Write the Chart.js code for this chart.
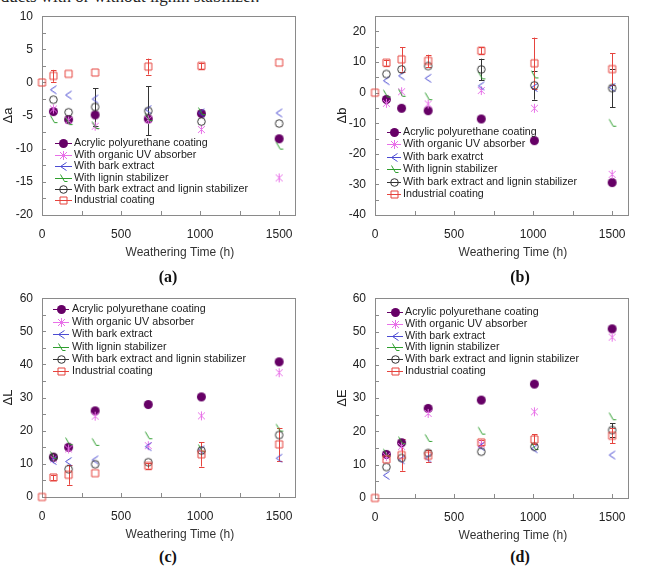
<!DOCTYPE html>
<html>
<head>
<meta charset="utf-8">
<script src="https://cdn.jsdelivr.net/npm/chart.js@4.4.0/dist/chart.umd.min.js"></script>
<style>
body { margin: 0; background: #fff; }
#page { position: relative; width: 669px; height: 573px; overflow: hidden; background: #fff; }
#page canvas { position: absolute; }
.lab { position: absolute; font-family: "Liberation Serif", "Times New Roman", serif; font-weight: bold; font-size: 16px; line-height: 16px; color: #111; transform: translateX(-50%); }
.cap { position: absolute; left: -22px; top: -13px; font-family: "Liberation Serif", serif; font-size: 17px; color: #222; white-space: nowrap; }
</style>
</head>
<body>
<div id="page">
	<div class="cap">products with or without lignin stabilizer.</div>
	<canvas id="chA" width="334" height="265" style="left:0px;top:0px;width:334px;height:265px"></canvas>
	<canvas id="chB" width="335" height="265" style="left:334px;top:0px;width:335px;height:265px"></canvas>
	<canvas id="chC" width="334" height="265" style="left:0px;top:282px;width:334px;height:265px"></canvas>
	<canvas id="chD" width="335" height="265" style="left:334px;top:282px;width:335px;height:265px"></canvas>
	<div class="lab" style="left:168px;top:269px">(a)</div>
	<div class="lab" style="left:520px;top:269px">(b)</div>
	<div class="lab" style="left:168px;top:549px">(c)</div>
	<div class="lab" style="left:520px;top:549px">(d)</div>
</div>
<script>
// Weathering times (h)
var times = [0, 72, 168, 336, 672, 1008, 1500];

var seriesNames = ['Acrylic polyurethane coating', 'With organic UV absorber', 'With bark extract',
	'With lignin stabilizer', 'With bark extract and lignin stabilizer', 'Industrial coating'];
// panel (b) legend spells it this way
var seriesNamesB = ['Acrylic polyurethane coating', 'With organic UV absorber', 'With bark exatrct',
	'With lignin stabilizer', 'With bark extract and lignin stabilizer', 'Industrial coating'];

// (a) delta a  (only the industrial coating shows a mark at 0 h)
var aAcrylic    = [null, -4.4, -5.6, -4.9, -5.5, -4.7, -8.5];
var aUV         = [null, -4.0, -5.7, -6.6, -5.6, -7.1, -14.4];
var aBark       = [null, -1.1, -1.9, -2.5, -4.1, -4.6, -4.6];
var aLignin     = [null, -5.6, -5.9, -6.5, -5.3, -4.4, -9.6];
var aBarkLignin = [null, -2.6, -4.5, -3.7, -4.3, -5.9, -6.2];
var aIndustrial = [0, 1.0, 1.3, 1.5, 2.4, 2.5, 3.0];
var aBarkLigninErr = [0, 0, 0, 2.8, 3.7, 0, 0];
var aIndustrialErr = [0, 0.9, 0, 0, 1.2, 0.5, 0];

// (b) delta b
var bAcrylic    = [null, -2.2, -5.1, -5.9, -8.6, -15.7, -29.4];
var bUV         = [null, -3.5, 0.3, -3.7, 0.7, -5.1, -26.7];
var bBark       = [null, 3.9, 5.5, 4.7, 2.2, 1.7, 1.7];
var bLignin     = [null, -0.4, -0.2, -1.3, 5.5, 5.8, -10.0];
var bBarkLignin = [null, 6.1, 7.6, 8.7, 7.6, 2.4, 1.5];
var bIndustrial = [0, 9.8, 10.9, 10.4, 13.7, 9.6, 7.7];
var bBarkLigninErr = [0, 0, 0, 0, 3.5, 4.7, 6.3];
var bIndustrialErr = [0, 1.0, 4.0, 2.0, 1.2, 8.4, 5.2];

// (c) delta L
var cAcrylic    = [null, 12.0, 15.0, 26.0, 27.9, 30.2, 40.8];
var cUV         = [null, 11.5, 14.5, 24.4, 15.5, 24.5, 37.5];
var cBark       = [null, 11.0, 10.7, 11.2, 15.2, 14.2, 11.7];
var cLignin     = [null, 12.5, 16.7, 16.5, 18.5, 14.6, 20.8];
var cBarkLignin = [null, 12.0, 8.4, 9.9, 10.5, 14.0, 18.7];
var cIndustrial = [0, 5.9, 6.7, 7.2, 9.4, 12.9, 15.9];
var cBarkLigninErr = [0, 0, 0, 0, 0, 0, 0];
var cIndustrialErr = [0, 0.8, 3.0, 0, 0.8, 3.7, 5.0];

// (d) delta E
var dAcrylic    = [null, 13.1, 16.6, 26.9, 29.4, 34.2, 50.8];
var dUV         = [null, 12.5, 15.5, 25.4, 16.0, 25.9, 48.3];
var dBark       = [null, 6.8, 11.5, 12.0, 15.5, 14.8, 12.9];
var dLignin     = [null, 13.5, 17.2, 17.9, 20.1, 15.5, 24.4];
var dBarkLignin = [null, 9.3, 12.0, 13.5, 13.9, 15.4, 20.4];
var dIndustrial = [0, 11.6, 12.9, 12.7, 16.7, 17.6, 18.7];
var dBarkLigninErr = [0, 0, 0, 0, 0, 0, 2.0];
var dIndustrialErr = [0, 0, 4.7, 1.8, 0.8, 1.5, 2.3];

var colors = ['#660066', '#e870e8', '#4b4bd2', '#2e9e2e', '#333333', '#e6443e'];
var kinds  = ['dot', 'star', 'chev', 'tri', 'ring', 'box'];

var FONT = '"Liberation Sans", Arial, sans-serif';

//Small marker images, so the odd excel shapes can be used as pointStyle
function marker(kind, color) {
	var c = document.createElement('canvas');
	c.width = 13; c.height = 13;
	var g = c.getContext('2d');
	g.translate(6.5, 6.5);
	g.strokeStyle = color;
	g.fillStyle = color;
	g.lineWidth = 1;
	g.beginPath();
	if (kind === 'dot') {
		g.arc(0, 0, 4.5, 0, Math.PI * 2);
		g.fill();
	} else if (kind === 'star') {
		g.moveTo(-3.5, -3.5); g.lineTo(3.5, 3.5);
		g.moveTo(3.5, -3.5); g.lineTo(-3.5, 3.5);
		g.moveTo(0, -4.5); g.lineTo(0, 4.5);
		g.stroke();
	} else if (kind === 'chev') {
		g.moveTo(3, -4); g.lineTo(-3, 0); g.lineTo(3, 4);
		g.stroke();
	} else if (kind === 'tri') {
		g.moveTo(-3, -4); g.lineTo(1, 3); g.lineTo(4, 3);
		g.stroke();
	} else if (kind === 'ring') {
		g.arc(0, 0, 3.8, 0, Math.PI * 2);
		g.stroke();
	} else {
		g.rect(-3.5, -3.5, 7, 7);
		g.stroke();
	}
	return c;
}

var markers = [];
for (var k = 0; k < kinds.length; k++) {
	markers.push(marker(kinds[k], colors[k]));
}

function toPoints(vals) {
	var pts = [];
	for (var i = 0; i < vals.length; i++) {
		pts.push({x: times[i], y: vals[i]});
	}
	return pts;
}

//Frame, inward ticks and x title
var framePlugin = {
	id: 'frame',
	beforeDatasetsDraw: function(chart) {
		var ctx = chart.ctx;
		var a = chart.chartArea;
		var xs = chart.scales.x, ys = chart.scales.y;
		ctx.save();
		ctx.strokeStyle = '#8a8a8a';
		ctx.lineWidth = 1;
		ctx.strokeRect(Math.round(a.left) + 0.5, Math.round(a.top) + 0.5, Math.round(a.right - a.left), Math.round(a.bottom - a.top));
		ctx.beginPath();
		ys.ticks.forEach(function(t) {
			var y = Math.round(ys.getPixelForValue(t.value)) + 0.5;
			ctx.moveTo(a.left, y); ctx.lineTo(a.left + 4, y);
		});
		xs.ticks.forEach(function(t) {
			var x = Math.round(xs.getPixelForValue(t.value)) + 0.5;
			ctx.moveTo(x, a.bottom); ctx.lineTo(x, a.bottom - 4);
		});
		ctx.stroke();
		ctx.fillStyle = '#333';
		ctx.font = '12px ' + FONT;
		ctx.textAlign = 'center';
		ctx.textBaseline = 'middle';
		ctx.fillText('Weathering Time (h)', a.left + (a.right - a.left) * 0.545, a.bottom + 38);
		ctx.restore();
	}
};

//Vertical error bars from the errors array of each dataset
var errorPlugin = {
	id: 'errbars',
	beforeDatasetsDraw: function(chart) {
		var ctx = chart.ctx;
		var ys = chart.scales.y, xs = chart.scales.x;
		ctx.save();
		ctx.lineWidth = 1;
		chart.data.datasets.forEach(function(ds) {
			if (!ds.errors) return;
			ctx.strokeStyle = ds.errColor;
			ctx.beginPath();
			for (var i = 0; i < ds.data.length; i++) {
				var e = ds.errors[i];
				if (!e || ds.data[i].y === null) continue;
				var x = Math.round(xs.getPixelForValue(ds.data[i].x)) + 0.5;
				var y1 = ys.getPixelForValue(ds.data[i].y + e);
				var y2 = ys.getPixelForValue(ds.data[i].y - e);
				ctx.moveTo(x, y1); ctx.lineTo(x, y2);
				ctx.moveTo(x - 2.5, Math.round(y1) + 0.5); ctx.lineTo(x + 3, Math.round(y1) + 0.5);
				ctx.moveTo(x - 2.5, Math.round(y2) + 0.5); ctx.lineTo(x + 3, Math.round(y2) + 0.5);
			}
			ctx.stroke();
		});
		ctx.restore();
	}
};

//Legend drawn inside the plot, excel style (line - marker - line)
var legendPlugin = {
	id: 'inLegend',
	afterDraw: function(chart, args, opts) {
		var ctx = chart.ctx;
		ctx.save();
		ctx.font = '10.7px ' + FONT;
		ctx.textBaseline = 'middle';
		ctx.textAlign = 'left';
		for (var i = 0; i < opts.names.length; i++) {
			var y = Math.round(opts.y0 + i * opts.dy) + 0.5;
			ctx.strokeStyle = colors[i];
			ctx.lineWidth = 1;
			ctx.beginPath();
			ctx.moveTo(opts.x0, y); ctx.lineTo(opts.x1, y);
			ctx.stroke();
			ctx.drawImage(markers[i], Math.round(opts.mx) - 6, y - 6.5);
			ctx.fillStyle = '#222';
			ctx.fillText(opts.names[i], opts.tx, y);
		}
		ctx.restore();
	}
};

function makeChart(id, cfg) {
	var datasets = [];
	for (var i = 0; i < 6; i++) {
		datasets.push({
			label: seriesNames[i],
			data: toPoints(cfg.series[i]),
			errors: cfg.errors[i] || null,
			errColor: colors[i],
			pointStyle: markers[i],
			pointRadius: 4,
			pointHoverRadius: 4,
			showLine: false,
			clip: false,
			borderColor: colors[i],
			backgroundColor: colors[i],
			order: 6 - i
		});
	}

	var yTicks = [];
	for (var v = cfg.yMin; v <= cfg.yMax + 1e-9; v += cfg.yMinor) yTicks.push(v);

	return new Chart(document.getElementById(id), {
		type: 'scatter',
		data: {datasets: datasets},
		options: {
			responsive: false,
			animation: false,
			layout: {padding: {top: cfg.padTop, right: cfg.padRight, left: 0, bottom: 0}},
			plugins: {
				legend: {display: false},
				tooltip: {enabled: false},
				inLegend: cfg.legend
			},
			scales: {
				x: {
					type: 'linear', min: 0, max: 1600,
					afterBuildTicks: function(s) {
						s.ticks = [0, 250, 500, 750, 1000, 1250, 1500].map(function(t) { return {value: t}; });
					},
					afterFit: function(s) { s.height = cfg.xH; },
					grid: {display: false, drawTicks: false},
					border: {display: false},
					ticks: {
						padding: 12, color: '#222', font: {family: FONT, size: 12}, maxRotation: 0, autoSkip: false,
						callback: function(val) { return val % 500 === 0 ? String(val) : ''; }
					}
				},
				y: {
					type: 'linear', min: cfg.yMin, max: cfg.yMax,
					afterBuildTicks: function(s) {
						s.ticks = yTicks.map(function(t) { return {value: t}; });
					},
					afterFit: function(s) { s.width = cfg.yW; },
					grid: {display: false, drawTicks: false},
					border: {display: false},
					title: {display: true, text: cfg.yTitle, color: '#222', font: {family: FONT, size: 13}, padding: {top: 1, bottom: 0}},
					ticks: {
						padding: 9, color: '#222', font: {family: FONT, size: 12}, autoSkip: false,
						callback: function(val) {
							return (Math.abs(val % cfg.yMajor) < 1e-9 && val <= cfg.yLabelMax) ? String(val) : '';
						}
					}
				}
			}
		},
		plugins: [framePlugin, errorPlugin, legendPlugin]
	});
}

makeChart('chA', {
	series: [aAcrylic, aUV, aBark, aLignin, aBarkLignin, aIndustrial],
	errors: [null, null, null, null, aBarkLigninErr, aIndustrialErr],
	yMin: -20, yMax: 10, yMinor: 2.5, yMajor: 5, yLabelMax: 10, yTitle: 'Δa',
	padTop: 15, padRight: 39, yW: 42, xH: 50,
	legend: {names: seriesNames, y0: 143.3, dy: 11.4, x0: 55, x1: 72, mx: 63, tx: 74}
});

makeChart('chB', {
	series: [bAcrylic, bUV, bBark, bLignin, bBarkLignin, bIndustrial],
	errors: [null, null, null, null, bBarkLigninErr, bIndustrialErr],
	yMin: -40, yMax: 25, yMinor: 5, yMajor: 10, yLabelMax: 20, yTitle: 'Δb',
	padTop: 16, padRight: 41, yW: 41, xH: 50,
	legend: {names: seriesNamesB, y0: 131.7, dy: 12.5, x0: 53, x1: 67, mx: 60, tx: 69}
});

makeChart('chC', {
	series: [cAcrylic, cUV, cBark, cLignin, cBarkLignin, cIndustrial],
	errors: [null, null, null, null, cBarkLigninErr, cIndustrialErr],
	yMin: 0, yMax: 60, yMinor: 5, yMajor: 10, yLabelMax: 60, yTitle: 'ΔL',
	padTop: 14, padRight: 39, yW: 42, xH: 50,
	legend: {names: seriesNames, y0: 27.3, dy: 12.4, x0: 53, x1: 69, mx: 61, tx: 72}
});

makeChart('chD', {
	series: [dAcrylic, dUV, dBark, dLignin, dBarkLignin, dIndustrial],
	errors: [null, null, null, null, dBarkLigninErr, dIndustrialErr],
	yMin: 0, yMax: 60, yMinor: 5, yMajor: 10, yLabelMax: 60, yTitle: 'ΔE',
	padTop: 16, padRight: 41, yW: 41, xH: 49,
	legend: {names: seriesNames, y0: 30.3, dy: 11.7, x0: 53, x1: 69, mx: 61, tx: 71}
});
</script>
</body>
</html>
